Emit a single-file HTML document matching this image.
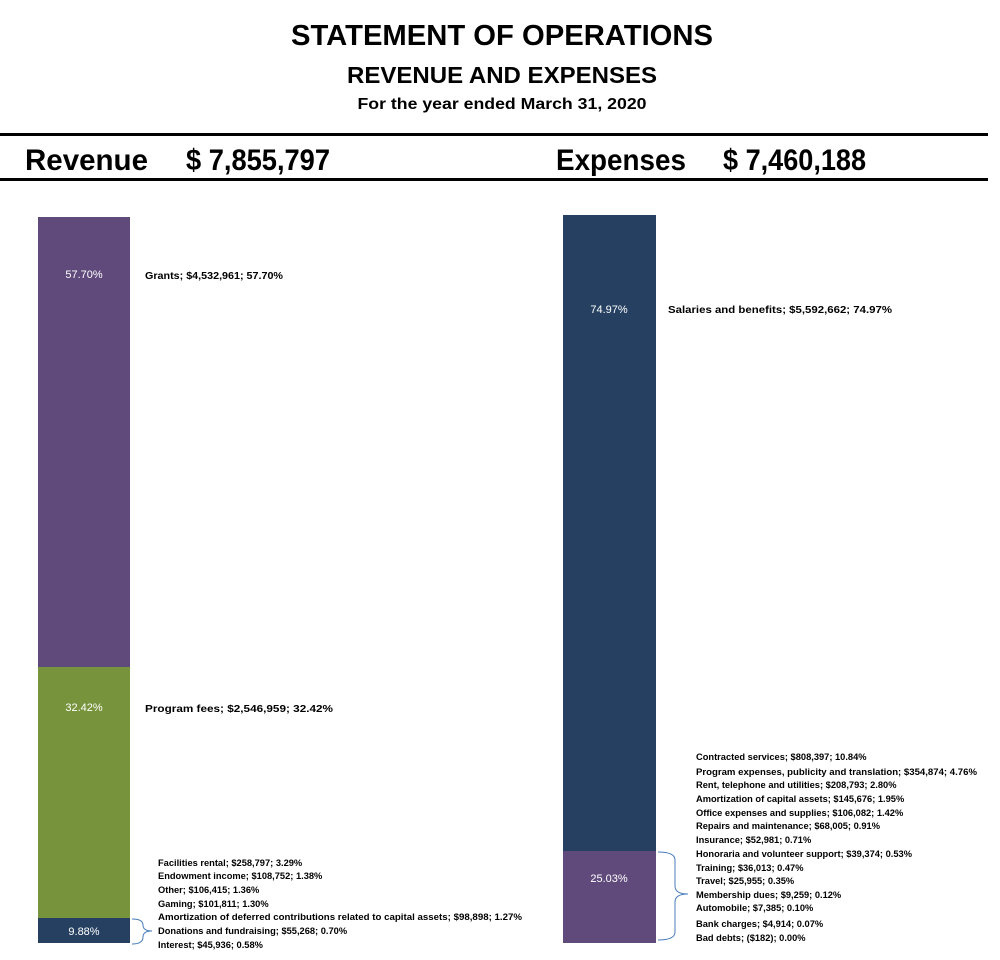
<!DOCTYPE html>
<html><head><meta charset="utf-8"><style>
html,body{margin:0;padding:0;background:#fff}
svg{display:block}
.t{font-family:"Liberation Sans",sans-serif;font-weight:bold;fill:#000}
.l{font-family:"Liberation Sans",sans-serif;font-weight:bold;font-size:9.3px;fill:#000}
.p{font-family:"Liberation Sans",sans-serif;font-size:11px;fill:#fff}
</style></head><body>
<svg width="1000" height="960" xmlns="http://www.w3.org/2000/svg">
<text class="t" x="502" y="45" font-size="29" text-anchor="middle" textLength="422" lengthAdjust="spacingAndGlyphs">STATEMENT OF OPERATIONS</text>
<text class="t" x="502" y="83" font-size="23" text-anchor="middle" textLength="310" lengthAdjust="spacingAndGlyphs">REVENUE AND EXPENSES</text>
<text class="t" x="502" y="109" font-size="16" text-anchor="middle" textLength="289" lengthAdjust="spacingAndGlyphs">For the year ended March 31, 2020</text>
<rect x="0" y="133" width="988" height="3" fill="#000"/>
<rect x="0" y="178" width="988" height="3" fill="#000"/>
<text class="t" x="25" y="170" font-size="30" textLength="123" lengthAdjust="spacingAndGlyphs">Revenue</text>
<text class="t" x="186" y="170" font-size="30" textLength="144" lengthAdjust="spacingAndGlyphs">$ 7,855,797</text>
<text class="t" x="556" y="170" font-size="30" textLength="130" lengthAdjust="spacingAndGlyphs">Expenses</text>
<text class="t" x="723" y="170" font-size="30" textLength="143" lengthAdjust="spacingAndGlyphs">$ 7,460,188</text>

<rect x="38" y="217" width="92" height="450" fill="#604a7b"/>
<rect x="38" y="667" width="92" height="251" fill="#77933c"/>
<rect x="38" y="918" width="92" height="25" fill="#254061"/>
<text class="p" x="84" y="278" text-anchor="middle">57.70%</text>
<text class="p" x="84" y="711" text-anchor="middle">32.42%</text>
<text class="p" x="84" y="935" text-anchor="middle">9.88%</text>

<rect x="563" y="215" width="93" height="636" fill="#254061"/>
<rect x="563" y="851" width="93" height="92" fill="#604a7b"/>
<text class="p" x="609" y="313" text-anchor="middle">74.97%</text>
<text class="p" x="609" y="882" text-anchor="middle">25.03%</text>

<text class="l" x="145" y="279" textLength="138" lengthAdjust="spacingAndGlyphs" style="font-size:10.5px">Grants; $4,532,961; 57.70%</text>
<text class="l" x="145" y="712" textLength="188" lengthAdjust="spacingAndGlyphs" style="font-size:10.5px">Program fees; $2,546,959; 32.42%</text>
<text class="l" x="158" y="866">Facilities rental; $258,797; 3.29%</text>
<text class="l" x="158" y="879">Endowment income; $108,752; 1.38%</text>
<text class="l" x="158" y="893">Other; $106,415; 1.36%</text>
<text class="l" x="158" y="907">Gaming; $101,811; 1.30%</text>
<text class="l" x="158" y="920" textLength="364" lengthAdjust="spacingAndGlyphs">Amortization of deferred contributions related to capital assets; $98,898; 1.27%</text>
<text class="l" x="158" y="934">Donations and fundraising; $55,268; 0.70%</text>
<text class="l" x="158" y="948">Interest; $45,936; 0.58%</text>
<path d="M132,919 Q143,919 143,925 Q143,931 152,931 Q143,931 143,937 Q143,944 132,944" fill="none" stroke="#4a7ebb" stroke-width="1"/>

<text class="l" x="668" y="313" textLength="224" lengthAdjust="spacingAndGlyphs" style="font-size:10.5px">Salaries and benefits; $5,592,662; 74.97%</text>
<text class="l" x="696" y="760">Contracted services; $808,397; 10.84%</text>
<text class="l" x="696" y="775" textLength="281" lengthAdjust="spacingAndGlyphs">Program expenses, publicity and translation; $354,874; 4.76%</text>
<text class="l" x="696" y="788">Rent, telephone and utilities; $208,793; 2.80%</text>
<text class="l" x="696" y="802">Amortization of capital assets; $145,676; 1.95%</text>
<text class="l" x="696" y="816">Office expenses and supplies; $106,082; 1.42%</text>
<text class="l" x="696" y="829">Repairs and maintenance; $68,005; 0.91%</text>
<text class="l" x="696" y="843">Insurance; $52,981; 0.71%</text>
<text class="l" x="696" y="857">Honoraria and volunteer support; $39,374; 0.53%</text>
<text class="l" x="696" y="871">Training; $36,013; 0.47%</text>
<text class="l" x="696" y="884">Travel; $25,955; 0.35%</text>
<text class="l" x="696" y="898">Membership dues; $9,259; 0.12%</text>
<text class="l" x="696" y="911">Automobile; $7,385; 0.10%</text>
<text class="l" x="696" y="927">Bank charges; $4,914; 0.07%</text>
<text class="l" x="696" y="941">Bad debts; ($182); 0.00%</text>
<path d="M658,852 Q675,852 675,860 L675,886 Q675,894 688,894 Q675,894 675,902 L675,932 Q675,940 658,940" fill="none" stroke="#4a7ebb" stroke-width="1"/>
</svg>
</body></html>
